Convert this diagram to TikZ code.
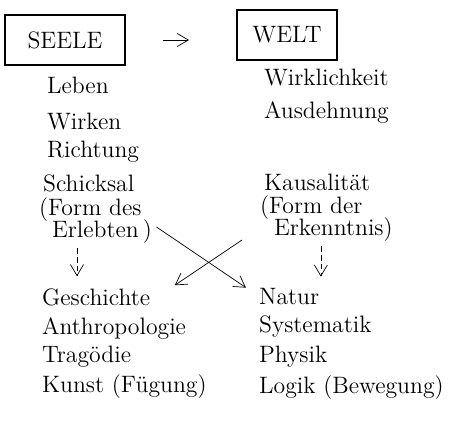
\documentclass[tikz,border=0pt]{standalone}
\usepackage{tikz}
\usetikzlibrary{arrows.meta,calc,positioning}

\tikzset{
  word/.style={anchor=west, inner sep=1pt, font=\fontsize{13.5}{16}\selectfont},
  titlebox/.style={draw, semithick, font=\fontsize{13.5}{16}\selectfont, minimum height=1.0cm},
  lead/.style={->, densely dashed, shorten >=0.2cm},
}

\begin{document}
\begin{tikzpicture}[>={Straight Barb[length=2.2mm,width=2.6mm]}, scale=1.0]
  \useasboundingbox (0,0) rectangle (9.08,-8.64);
  % the two headings
  \node[titlebox, minimum width=2.4cm] (seele) at (1.3,-0.8) {SEELE};
  \node[titlebox, minimum width=2.0cm] (welt) at (5.74,-0.7) {WELT};
  \draw[->] ([xshift=0.75cm]seele.east) -- ([xshift=-0.95cm]seele.east -| welt.west);
  % left column
  \node[word] (leben) at (0.9,-1.7) {Leben};
  \node[word] (wirken) at (0.9,-2.44) {Wirken};
  \node[word] (richtung) at (0.9,-3.04) {Richtung};
  \node[word] (schicksal) at (0.82,-3.66) {Schicksal};
  \node[word] (formdes) at (0.74,-4.2) {(Form des};
  \node[word] (erlebten) at (1.0,-4.64) {Erlebten\,)};
  % right column
  \node[word] (wirklichkeit) at (5.24,-1.56) {Wirklichkeit};
  \node[word] (ausdehnung) at (5.24,-2.24) {Ausdehnung};
  \node[word] (kausal) at (5.24,-3.64) {Kausalität};
  \node[word] (formder) at (5.16,-4.16) {(Form der};
  \node[word] (erkenntnis) at (5.44,-4.6) {Erkenntnis)};
  % lower left
  \node[word] (geschichte) at (0.8,-5.94) {Geschichte};
  \node[word] (anthro) at (0.8,-6.56) {Anthropologie};
  \node[word] (tragoedie) at (0.8,-7.14) {Tragödie};
  \node[word] (kunst) at (0.8,-7.74) {Kunst (Fügung)};
  % lower right
  \node[word] (natur) at (5.14,-5.94) {Natur};
  \node[word] (system) at (5.14,-6.54) {Systematik};
  \node[word] (physik) at (5.14,-7.14) {Physik};
  \node[word] (logik) at (5.14,-7.76) {Logik (Bewegung)};
  % arrows
  \draw[lead] ([xshift=-0.5cm,yshift=-0.05cm]erlebten.south) -- ([xshift=-0.5cm]erlebten.south |- geschichte.north);
  \draw[lead] ([xshift=-0.25cm,yshift=-0.05cm]erkenntnis.south) -- ([xshift=-0.25cm]erkenntnis.south |- natur.north);
  \draw[->] ([xshift=0.05cm,yshift=0.1cm]erlebten.east) -- ([xshift=-0.22cm,yshift=-0.02cm]natur.north west);
  \draw[->] ([xshift=-0.6cm,yshift=-0.2cm]erkenntnis.west) -- ([xshift=0.45cm,yshift=0.02cm]geschichte.north east);
\end{tikzpicture}
\end{document}
